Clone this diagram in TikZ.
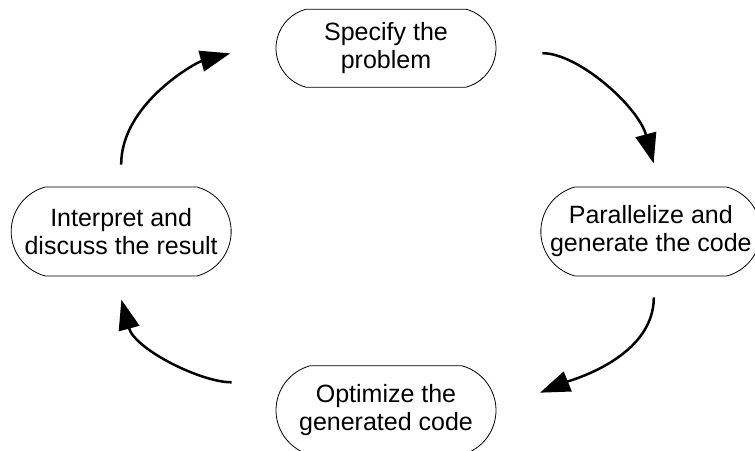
\documentclass[tikz,border=0pt]{standalone}
\usepackage{fontspec}
\setmainfont{Liberation Sans}
\usetikzlibrary{shapes.misc}
\usetikzlibrary{arrows.meta}

\tikzset{
  stage/.style={draw, rounded rectangle, rounded rectangle arc length=150, line width=0.8pt,
    minimum width=188pt, minimum height=89pt, inner xsep=-16pt, align=center,
    font=\fontsize{25pt}{28pt}\selectfont},
  cycle arrow/.style={-{Triangle[length=30pt,width=21pt]}, line width=2.5pt},
}

\begin{document}
\begin{tikzpicture}[x=1pt, y=1pt]
    \useasboundingbox (0,0) rectangle (755,450);
    \matrix[column sep=34pt, row sep=89pt] at (386,218) {
        & \node[stage, minimum height=78pt] (spec) {Specify the\\problem}; & \\[10pt]
        \node[stage] (interp) {Interpret and\\discuss the result}; & &
        \node[stage] (par) {Parallelize and\\generate the code}; \\
        & \node[stage] (opt) {Optimize the\\generated code}; & \\
    };

    \draw[cycle arrow, shorten <=46pt, shorten >=24pt] ([yshift=-5pt]spec.east) to[out=0, in=105] ([xshift=9pt]par.north);
    \draw[cycle arrow, shorten <=21pt, shorten >=47pt] ([xshift=3pt]par.south) to[out=-90, in=22] (opt.east);
    \draw[cycle arrow, shorten <=44pt, shorten >=24pt] ([yshift=28pt]opt.west) to[out=180, in=-75] ([xshift=-6pt]interp.south);
    \draw[cycle arrow, shorten <=22pt, shorten >=47pt] (interp.north) to[out=90, in=195] ([yshift=7pt]spec.west);
\end{tikzpicture}
\end{document}
